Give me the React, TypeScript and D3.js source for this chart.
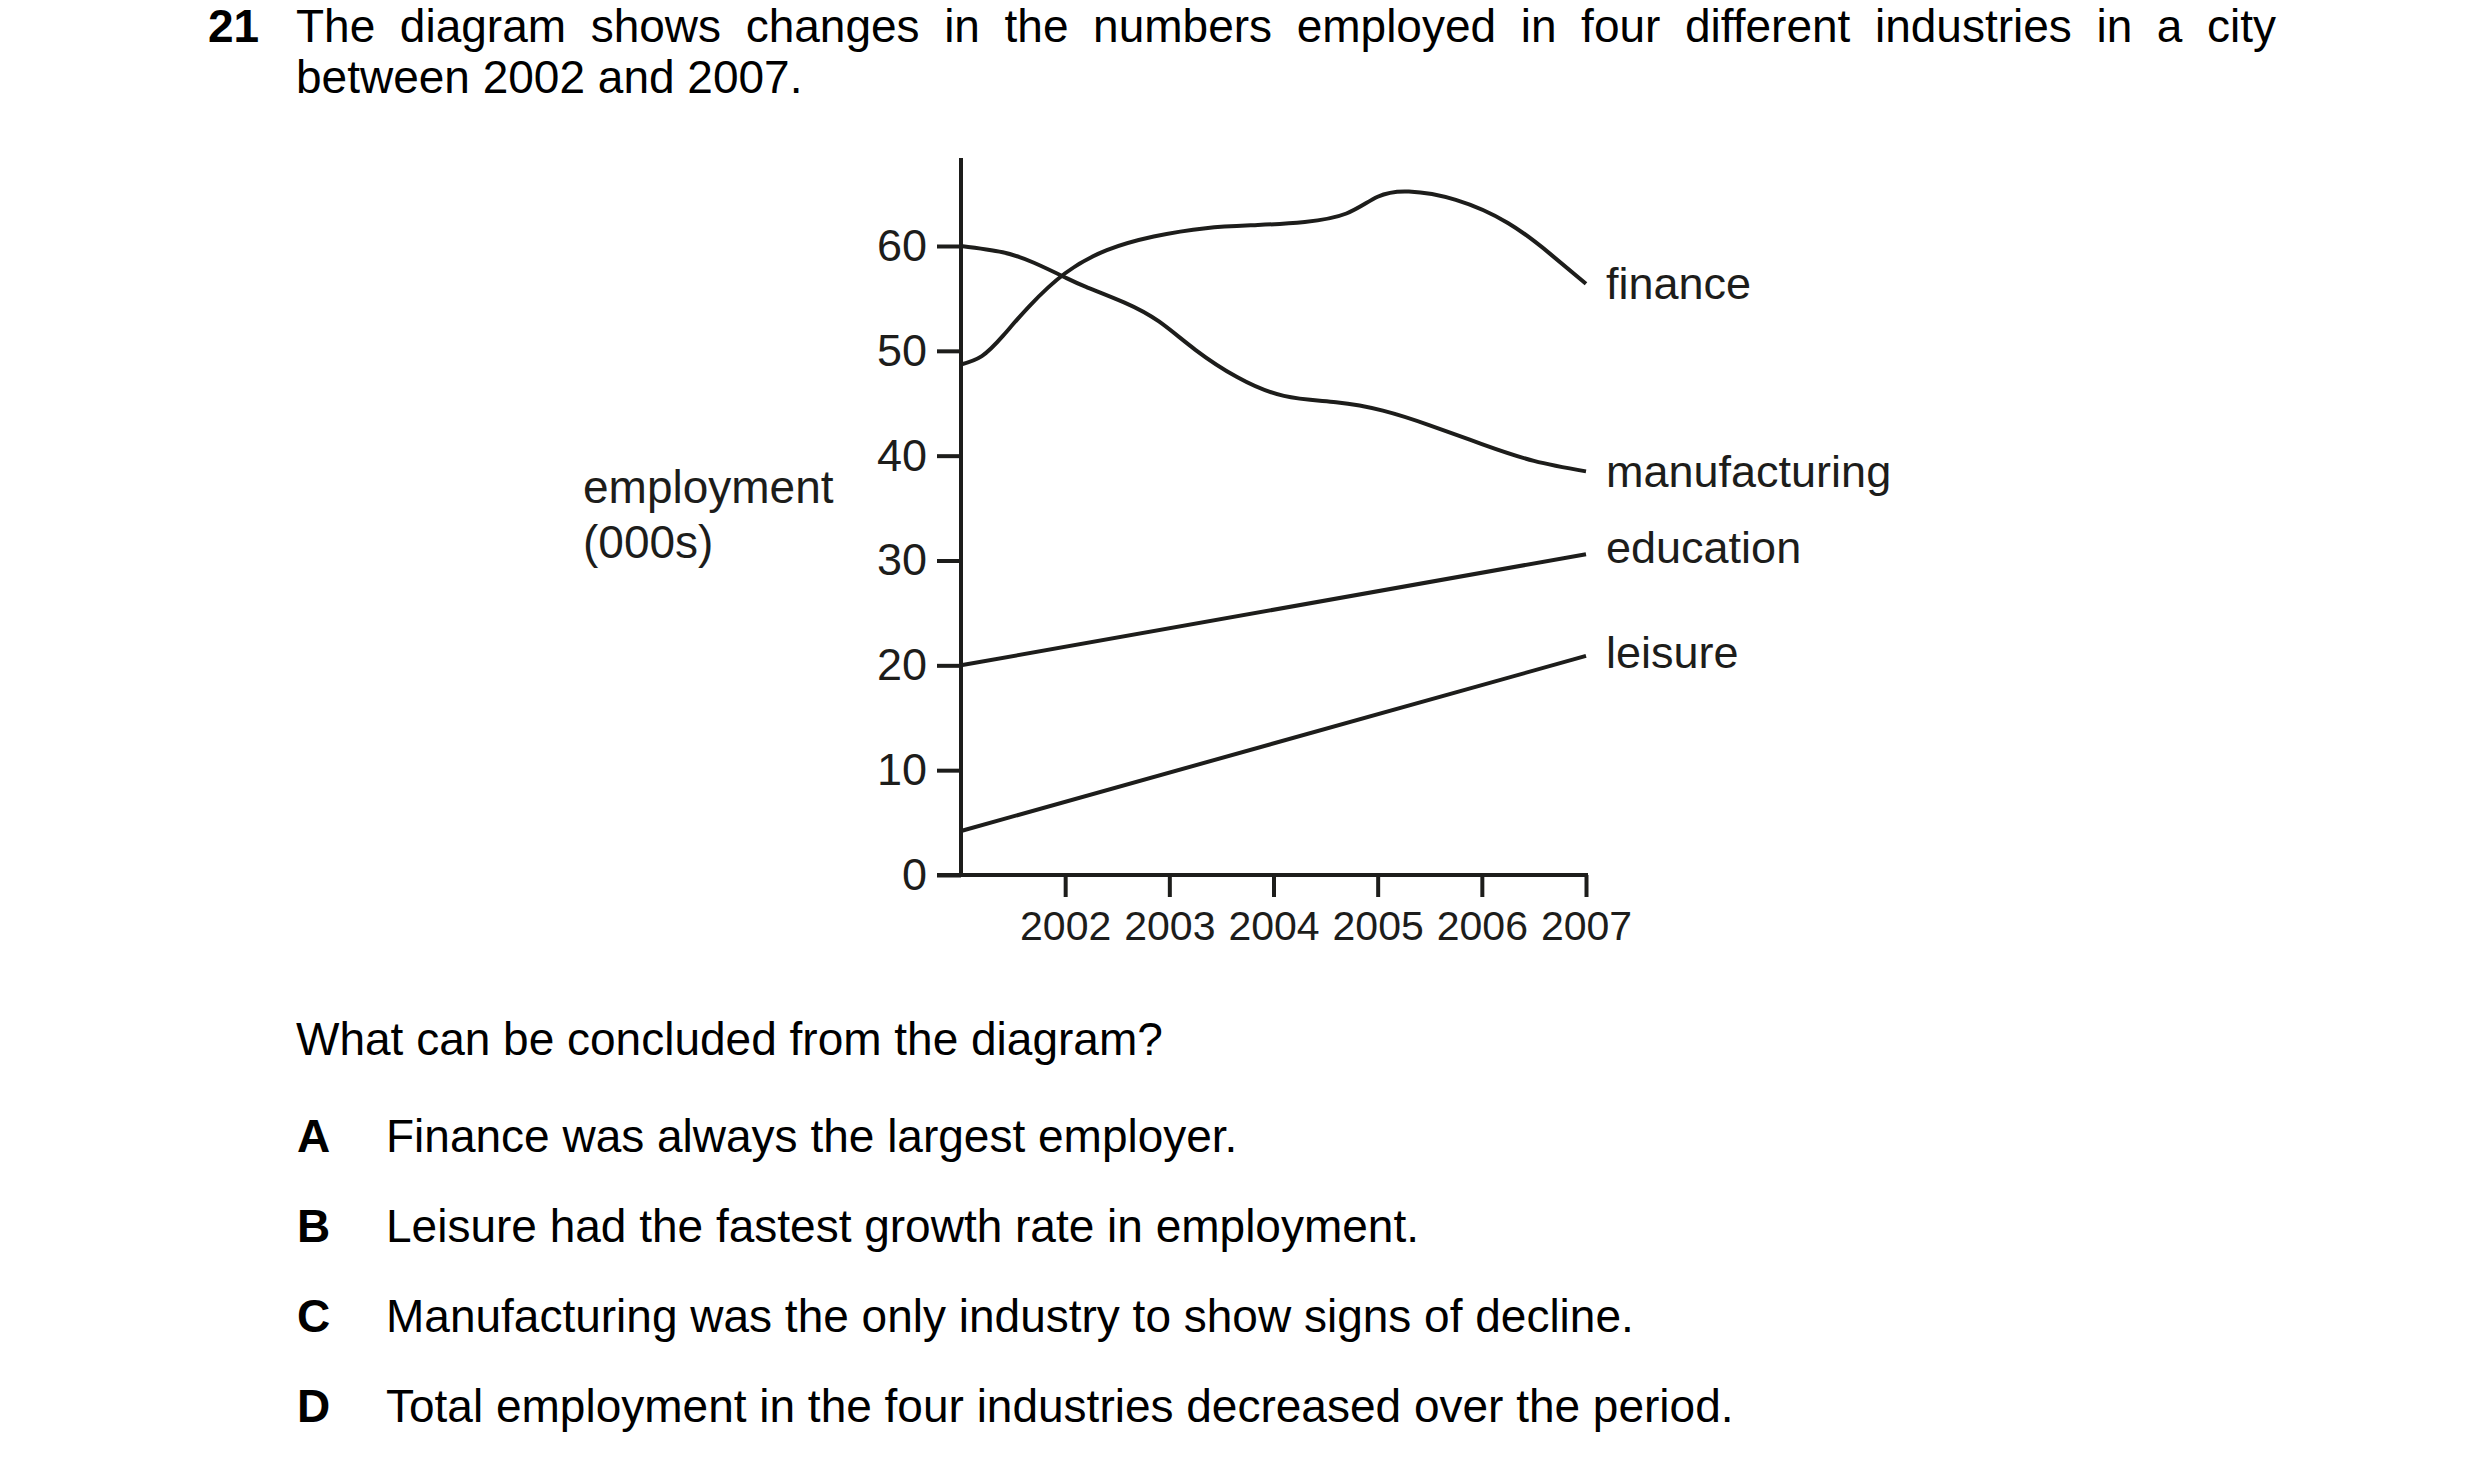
import { useEffect, useRef } from 'react';
import * as d3 from 'd3';

// x positions are years; the axis starts one year before the first labelled tick
const yearTicks = [2002, 2003, 2004, 2005, 2006, 2007];
const yTicks = [0, 10, 20, 30, 40, 50, 60];

// [year, employment in thousands]
const finance: [number, number][] = [
    [2001.0, 48.7], [2001.2, 49.5], [2001.4, 51.4], [2001.65, 54.2], [2002.0, 57.4],
    [2002.4, 59.6], [2002.85, 60.9], [2003.35, 61.7], [2003.85, 62.0], [2004.3, 62.3],
    [2004.7, 63.1], [2005.0, 64.7], [2005.3, 65.2], [2005.75, 64.4], [2006.25, 62.2],
    [2006.65, 59.3], [2007.0, 56.4],
];
const manufacturing: [number, number][] = [
    [2001.0, 60.0], [2001.4, 59.4], [2001.7, 58.4], [2002.0, 57.0], [2002.2, 56.1],
    [2002.57, 54.6], [2002.9, 52.8], [2003.25, 50.1], [2003.65, 47.5], [2004.1, 45.7],
    [2004.6, 45.1], [2005.05, 44.3], [2005.5, 42.9], [2006.0, 41.1], [2006.5, 39.5],
    [2007.0, 38.5],
];
const education: [number, number][] = [[2001, 20.0], [2007, 30.6]];
const leisure: [number, number][] = [[2001, 4.2], [2007, 20.9]];

const seriesNames = ['finance', 'manufacturing', 'education', 'leisure'];
const seriesData = [finance, manufacturing, education, leisure];

const titleLine1 = 'The diagram shows changes in the numbers employed in four different industries in a city';
const titleLine2 = 'between 2002 and 2007.';
const question = 'What can be concluded from the diagram?';
const optionKeys = ['A', 'B', 'C', 'D'];
const optionTexts = [
    'Finance was always the largest employer.',
    'Leisure had the fastest growth rate in employment.',
    'Manufacturing was the only industry to show signs of decline.',
    'Total employment in the four industries decreased over the period.',
];

const FONT = '"Liberation Sans", Arial, Helvetica, sans-serif';
const INK = '#1d1d1b';

export default function App() {
    const svgRef = useRef<SVGSVGElement>(null);

    useEffect(() => {
        if (!svgRef.current) return;
        const svg = d3.select(svgRef.current);
        svg.selectAll('*').remove();

        const W = 2480, H = 1470;
        svg.attr('width', W).attr('height', H).attr('viewBox', `0 0 ${W} ${H}`);
        svg.append('rect').attr('width', W).attr('height', H).attr('fill', '#fff');

        // ---- question text ----
        const txt = svg.append('g').attr('font-family', FONT).attr('fill', '#000');

        txt.append('text')
            .attr('x', 208).attr('y', 42)
            .attr('font-size', 46).attr('font-weight', 'bold')
            .text('21');

        const line1 = txt.append('text')
            .attr('x', 296).attr('y', 42)
            .attr('font-size', 46)
            .text(titleLine1);
        // justify the first line like the printed page
        const natural = (line1.node() as SVGTextElement).getComputedTextLength();
        const gaps = titleLine1.split(' ').length - 1;
        line1.attr('word-spacing', (2276 - 296 - natural) / gaps);

        txt.append('text')
            .attr('x', 296).attr('y', 93)
            .attr('font-size', 46)
            .text(titleLine2);

        txt.append('text')
            .attr('x', 296).attr('y', 1055)
            .attr('font-size', 46)
            .text(question);

        optionKeys.forEach((k, i) => {
            const y = 1152 + i * 90;
            txt.append('text')
                .attr('x', 297).attr('y', y)
                .attr('font-size', 46).attr('font-weight', 'bold')
                .text(k);
            txt.append('text')
                .attr('x', 386).attr('y', y)
                .attr('font-size', 46)
                .text(optionTexts[i]);
        });

        // ---- chart ----
        const x = d3.scaleLinear().domain([2001, 2007]).range([961, 1586]);
        const y = d3.scaleLinear().domain([0, 60]).range([875, 246]);
        const yTop = 68.4; // axis line runs a little past the last tick
        const SW = 4;

        const chart = svg.append('g').attr('font-family', FONT);

        // y axis
        const yAxis = chart.append('g')
            .attr('transform', `translate(${x(2001)},0)`)
            .call(d3.axisLeft(y).tickValues(yTicks).tickSize(24).tickPadding(10).tickSizeOuter(0));
        yAxis.select('.domain').remove();
        yAxis.selectAll('line').attr('stroke', INK).attr('stroke-width', SW);
        yAxis.selectAll('text')
            .attr('font-size', 45)
            .attr('font-family', FONT)
            .attr('fill', INK);

        chart.append('line')
            .attr('x1', x(2001)).attr('x2', x(2001))
            .attr('y1', y(0) + SW / 2).attr('y2', y(yTop))
            .attr('stroke', INK).attr('stroke-width', SW);

        // x axis
        const xAxis = chart.append('g')
            .attr('transform', `translate(0,${y(0)})`)
            .call(d3.axisBottom(x).tickValues(yearTicks).tickFormat(d3.format('d')).tickSize(22).tickPadding(14).tickSizeOuter(0));
        xAxis.select('.domain').remove();
        xAxis.selectAll('line').attr('stroke', INK).attr('stroke-width', SW);
        xAxis.selectAll('text')
            .attr('font-size', 41)
            .attr('font-family', FONT)
            .attr('fill', INK);

        chart.append('line')
            .attr('x1', x(2001) - 24).attr('x2', x(2007) + SW / 2)
            .attr('y1', y(0)).attr('y2', y(0))
            .attr('stroke', INK).attr('stroke-width', SW);

        // y axis title
        const yTitle = chart.append('text')
            .attr('x', 583).attr('y', 503)
            .attr('font-size', 46)
            .attr('fill', INK);
        yTitle.append('tspan').attr('x', 583).text('employment');
        yTitle.append('tspan').attr('x', 583).attr('dy', 55).text('(000s)');

        // series
        const line = d3.line<[number, number]>()
            .x(d => x(d[0]))
            .y(d => y(d[1]))
            .curve(d3.curveNatural);

        const labelNudge = [0, 0, -7, -4];

        seriesData.forEach((data, i) => {
            chart.append('path')
                .attr('d', line(data) || '')
                .attr('fill', 'none')
                .attr('stroke', INK)
                .attr('stroke-width', SW)
                .attr('stroke-linejoin', 'round');

            const last = data[data.length - 1];
            chart.append('text')
                .attr('x', x(last[0]) + 20)
                .attr('y', y(last[1]) + labelNudge[i])
                .attr('dy', '0.35em')
                .attr('font-size', 45)
                .attr('fill', INK)
                .text(seriesNames[i]);
        });
    }, []);

    return (
        <svg
            ref={svgRef}
            style={{ position: 'absolute', left: 0, top: 0, display: 'block' }}
        />
    );
}
